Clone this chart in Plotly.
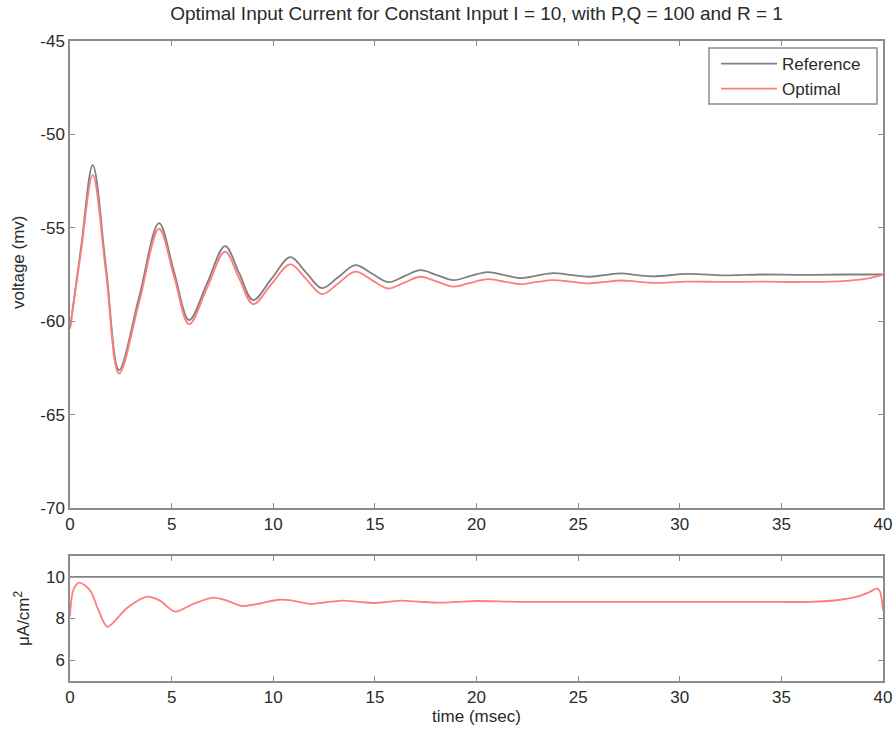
import plotly.graph_objects as go

# ---- data ----
t_v = [0, 0.55, 1.12, 1.77, 2.41, 3.4, 4.38, 5.12, 5.86, 6.75, 7.63, 8.32, 9.01, 9.92,
       10.84, 11.62, 12.4, 13.22, 14.04, 14.85, 15.66, 16.45, 17.24, 18.05, 18.87, 19.7,
       20.54, 21.37, 22.2, 22.97, 23.75, 24.62, 25.5, 26.3, 27.1, 27.9, 28.7, 30.4, 32.2,
       34.0, 36.0, 38.0, 39.2, 40.0]
v_reference = [-60.4, -56.0, -51.64, -57.1, -62.62, -58.7, -54.75, -57.35, -59.94, -57.96,
               -55.98, -57.42, -58.87, -57.72, -56.57, -57.4, -58.23, -57.62, -57.0, -57.45,
               -57.91, -57.59, -57.27, -57.53, -57.8, -57.58, -57.37, -57.53, -57.69, -57.56,
               -57.43, -57.52, -57.62, -57.53, -57.44, -57.53, -57.6, -57.47, -57.55, -57.5,
               -57.52, -57.5, -57.5, -57.5]
v_optimal = [-60.4, -56.2, -52.18, -57.4, -62.8, -59.0, -55.05, -57.6, -60.16, -58.2,
             -56.28, -57.7, -59.09, -58.0, -56.96, -57.75, -58.55, -57.95, -57.35, -57.8,
             -58.25, -57.93, -57.62, -57.88, -58.15, -57.95, -57.75, -57.88, -58.02, -57.9,
             -57.8, -57.88, -57.97, -57.9, -57.82, -57.88, -57.95, -57.88, -57.9, -57.88,
             -57.9, -57.85, -57.72, -57.5]

t_i = [0, 0.16, 0.46, 0.99, 1.4, 1.84, 2.8, 3.8, 4.43, 5.17, 6.07, 7.05, 7.75, 8.45, 9.35,
       10.25, 11.0, 11.8, 12.6, 13.45, 14.2, 15.0, 15.65, 16.3, 17.25, 18.2, 19.1, 20.0,
       22, 25, 28, 31, 34, 36.4, 37.9, 38.9, 39.4, 39.7, 39.85, 40]
i_optimal = [8.1, 9.35, 9.72, 9.35, 8.4, 7.6, 8.5, 9.05, 8.86, 8.33, 8.7, 9.0, 8.85, 8.6,
             8.72, 8.9, 8.85, 8.7, 8.78, 8.86, 8.8, 8.74, 8.8, 8.86, 8.8, 8.76, 8.8, 8.84,
             8.8, 8.8, 8.8, 8.8, 8.8, 8.8, 8.9, 9.1, 9.3, 9.45, 9.3, 8.4]
t_ref_i = [0, 40]
i_reference = [10, 10]

x_ticks = [0, 5, 10, 15, 20, 25, 30, 35, 40]
v_ticks = [-70, -65, -60, -55, -50, -45]
i_ticks = [6, 8, 10]

GREY = "#808080"
RED = "rgb(255,125,125)"
AXC = "#8c8c8c"
TXT = "#2a2a2a"
FONT = "Liberation Sans, Arial, sans-serif"
LW = 1.8

fig = go.Figure()
fig.add_trace(go.Scatter(x=t_v, y=v_reference, name="Reference", mode="lines",
                         line=dict(color=GREY, width=LW, shape="spline", smoothing=1.0),
                         xaxis="x", yaxis="y"))
fig.add_trace(go.Scatter(x=t_v, y=v_optimal, name="Optimal", mode="lines",
                         line=dict(color=RED, width=LW, shape="spline", smoothing=1.0),
                         xaxis="x", yaxis="y"))
fig.add_trace(go.Scatter(x=t_ref_i, y=i_reference, mode="lines", showlegend=False,
                         line=dict(color=GREY, width=LW), xaxis="x2", yaxis="y2"))
fig.add_trace(go.Scatter(x=t_i, y=i_optimal, mode="lines", showlegend=False,
                         line=dict(color=RED, width=LW, shape="spline", smoothing=0.8),
                         xaxis="x2", yaxis="y2"))

ax_common = dict(showline=True, linecolor=AXC, linewidth=1.5, mirror="ticks",
                 ticks="inside", ticklen=5, tickcolor=AXC, tickwidth=1,
                 showgrid=False, zeroline=False, automargin=False,
                 tickfont=dict(family=FONT, size=17, color=TXT))

# body margin is removed by post_script below, so figure pixels == window pixels
W, H = 896, 734
X0, X1, Y0, Y1 = 70, 883, 41, 681
L, R, T, B = X0, W - X1, Y0, H - Y1
ph = H - T - B
pw = W - L - R

def ypaper(pix):
    return (Y1 - pix) / ph

def xpaper(pix):
    return (pix - X0) / pw

fig.update_layout(
    width=W, height=H,
    margin=dict(l=L, r=R, t=T, b=B, autoexpand=False),
    paper_bgcolor="white", plot_bgcolor="white",
    font=dict(family=FONT, size=17, color=TXT),
    title=dict(text="Optimal Input Current for Constant Input I = 10, with P,Q = 100 and R = 1",
               x=0.5, xref="paper", xanchor="center", y=1 - 13 / H, yanchor="middle",
               font=dict(family=FONT, size=19, color=TXT)),
    xaxis=dict(domain=[0, 1], range=[0, 40], tickvals=x_ticks,
               ticktext=[str(v) for v in x_ticks], anchor="y", **ax_common),
    yaxis=dict(domain=[ypaper(508), 1], range=[-70, -45], tickvals=v_ticks,
               ticktext=[str(v) for v in v_ticks], anchor="x", **ax_common),
    xaxis2=dict(domain=[0, 1], range=[0, 40], tickvals=x_ticks,
                ticktext=[str(v) for v in x_ticks], anchor="y2",
                title=dict(text="time (msec)", standoff=2, font=dict(family=FONT, size=17, color=TXT)),
                **ax_common),
    yaxis2=dict(domain=[0, ypaper(556)], range=[5, 11], tickvals=i_ticks,
                ticktext=[str(v) for v in i_ticks], anchor="x2", **ax_common),
    legend=dict(x=xpaper(716), xanchor="left", y=ypaper(46), yanchor="top",
                bgcolor="rgba(0,0,0,0)", borderwidth=0, itemwidth=56,
                font=dict(family=FONT, size=17, color=TXT), tracegroupgap=0),
    showlegend=True,
    shapes=[dict(type="rect", xref="paper", yref="paper",
                 x0=xpaper(709), x1=xpaper(877), y0=ypaper(104), y1=ypaper(48),
                 line=dict(color=AXC, width=1.5), fillcolor="white", layer="above")],
    annotations=[
        dict(text="voltage (mv)", textangle=-90, xref="paper", yref="paper",
             x=xpaper(18), y=ypaper(262), xanchor="center", yanchor="middle",
             showarrow=False, font=dict(family=FONT, size=17, color=TXT)),
        dict(text="μA/cm<sup>2</sup>", textangle=-90, xref="paper", yref="paper",
             x=xpaper(22), y=ypaper(618), xanchor="center", yanchor="middle",
             showarrow=False, font=dict(family=FONT, size=17, color=TXT)),
    ],
)

fig.write_html("out.html", config={"displayModeBar": False},
               post_script="document.body.style.margin='0px';")
